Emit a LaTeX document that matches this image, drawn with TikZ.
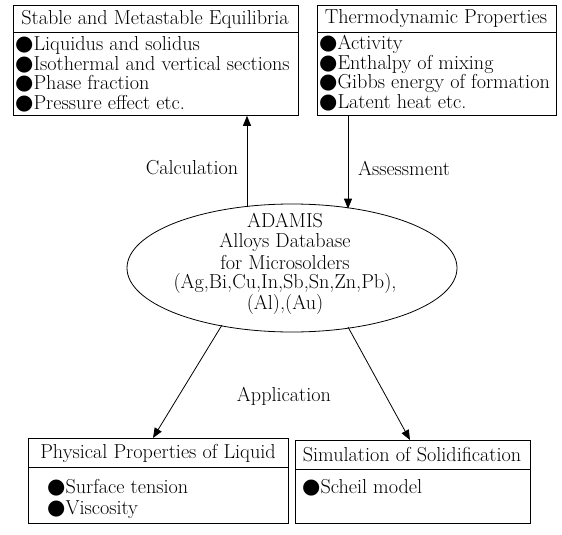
\documentclass[tikz,border=0pt]{standalone}
\usepackage{fontspec}
\usetikzlibrary{shapes.geometric,arrows.meta}
\newfontfamily\dejavu{DejaVu Sans}
\newcommand\bul{{\dejavu\fontsize{21}{21}\selectfont ●}}
\begin{document}
\begin{tikzpicture}[x=1pt,y=-1pt, font=\fontsize{20.2}{22}\selectfont,
  box/.style={draw, line width=0.8pt, anchor=north west, inner sep=0pt},
  hdr/.style={inner sep=0pt, anchor=center},
  item/.style={inner sep=0pt, anchor=west},
  lab/.style={inner sep=0pt},
  arr/.style={-{Triangle[length=10pt,width=8pt]}, line width=0.8pt}]
\useasboundingbox (0,0) rectangle (562,535);
% top-left box
\node[box, minimum width=285pt, minimum height=110pt] (A) at (13,5) {};
\draw[line width=0.8pt] ([yshift=-27pt]A.north west) -- ([yshift=-27pt]A.north east);
\node[hdr] (Ah) at (155,19) {Stable and Metastable Equilibria};
\node[item] (A1) at (15,45) {\bul Liquidus and solidus};
\node[item] (A2) at (15,64.5) {\bul Isothermal and vertical sections};
\node[item] (A3) at (15,84) {\bul Phase fraction};
\node[item] (A4) at (15,103.5) {\bul Pressure effect etc.};
% top-right box
\node[box, minimum width=239pt, minimum height=110pt] (B) at (317,5) {};
\draw[line width=0.8pt] ([yshift=-27pt]B.north west) -- ([yshift=-27pt]B.north east);
\node[hdr] (Bh) at (436,19) {Thermodynamic Properties};
\node[item] (B1) at (319,44.5) {\bul Activity};
\node[item] (B2) at (319,64) {\bul Enthalpy of mixing};
\node[item] (B3) at (319,83.5) {\bul Gibbs energy of formation};
\node[item] (B4) at (319,103) {\bul Latent heat etc.};
% ellipse
\node[draw, ellipse, line width=0.8pt, inner sep=0pt, minimum width=330pt, minimum height=128pt] (E) at (292,268) {};
\node[lab] (E1) at (285,221) {ADAMIS};
\node[lab] (E2) at (285,242) {Alloys Database};
\node[lab] (E3) at (285,262.5) {for Microsolders};
\node[lab] (E4) at (285,283) {(Ag,Bi,Cu,In,Sb,Sn,Zn,Pb),};
\node[lab] (E5) at (285,304) {(Al),(Au)};
% bottom boxes
\node[box, minimum width=260pt, minimum height=85pt] (C) at (28,438) {};
\draw[line width=0.8pt] ([yshift=-29pt]C.north west) -- ([yshift=-29pt]C.north east);
\node[hdr] (Ch) at (158,453) {Physical Properties of Liquid};
\node[item] (C1) at (47,488) {\bul Surface tension};
\node[item] (C2) at (47,510) {\bul Viscosity};
\node[box, minimum width=235pt, minimum height=83pt] (D) at (295,440) {};
\draw[line width=0.8pt] ([yshift=-29pt]D.north west) -- ([yshift=-29pt]D.north east);
\node[hdr] (Dh) at (412,455) {Simulation of Solidification};
\node[item] (D1) at (302,488) {\bul Scheil model};
% connectors
\coordinate (c1) at (247,207.4);
\coordinate (c2) at (348,208.7);
\coordinate (c3) at (222,325);
\coordinate (c4) at (348,327);
\coordinate (t3) at (153,438);
\coordinate (t4) at (410,440);
\draw[arr] (c1) -- (c1 |- A.south);
\draw[arr] (B.south -| c2) -- (c2);
\draw[arr] (c3) -- (t3);
\draw[arr] (c4) -- (t4);
\node[lab] (L1) at (192,168) {Calculation};
\node[lab] (L2) at (404,168) {Assessment};
\node[lab] (L3) at (284,396) {Application};
\end{tikzpicture}
\end{document}
